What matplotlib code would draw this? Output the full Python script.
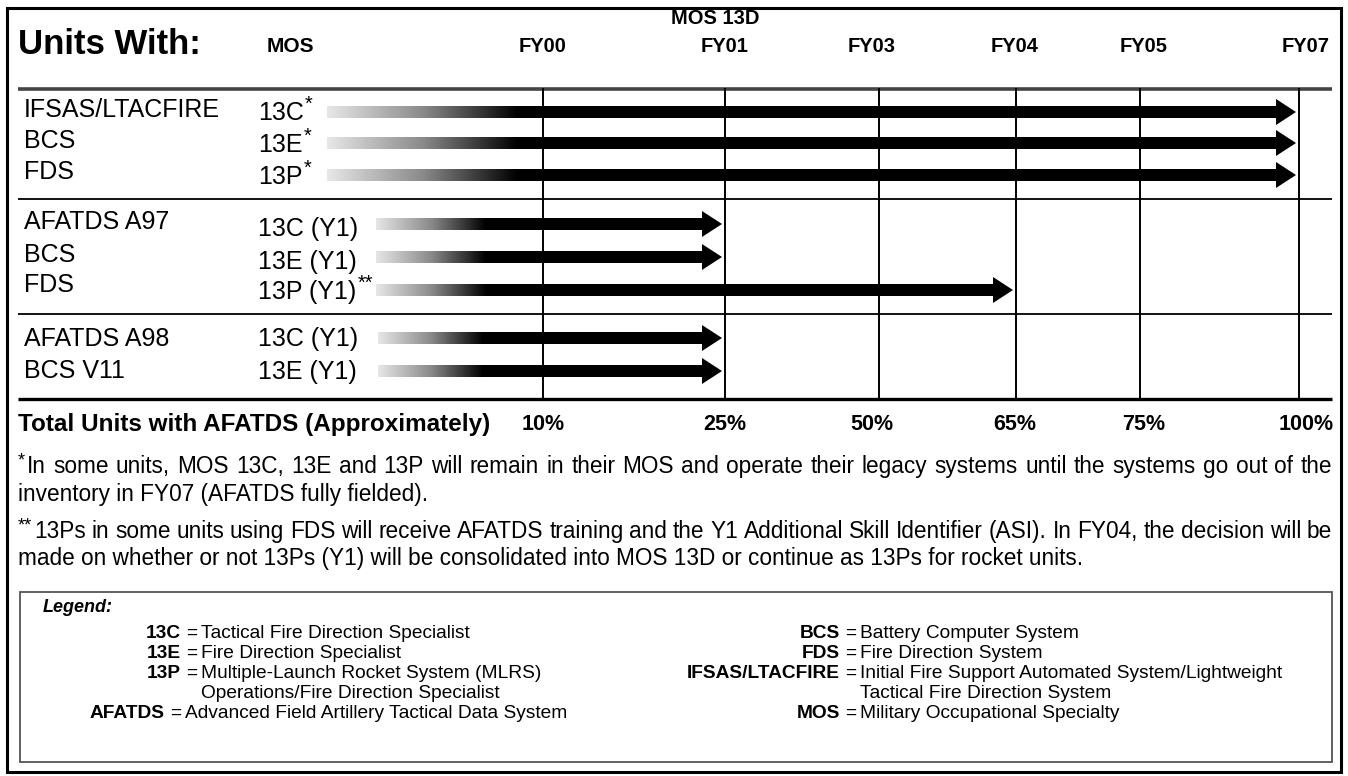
import matplotlib
matplotlib.use("Agg")
import matplotlib.pyplot as plt
import numpy as np
from matplotlib.patches import Polygon, Rectangle
from matplotlib.colors import LinearSegmentedColormap

plt.rcParams["font.family"] = ["Liberation Sans", "DejaVu Sans"]

# ---- chart content ----
fiscal_years = ["FY00", "FY01", "FY03", "FY04", "FY05", "FY07"]
fielded_share = ["10%", "25%", "50%", "65%", "75%", "100%"]

group_systems = [
    ["IFSAS/LTACFIRE", "BCS", "FDS"],
    ["AFATDS A97", "BCS", "FDS"],
    ["AFATDS A98", "BCS V11"],
]
group_mos = [
    ["13C", "13E", "13P"],
    ["13C (Y1)", "13E (Y1)", "13P (Y1)"],
    ["13C (Y1)", "13E (Y1)"],
]
group_marks = [
    ["*", "*", "*"],
    ["", "", "**"],
    ["", ""],
]
group_until = [
    ["FY07", "FY07", "FY07"],
    ["FY01", "FY01", "FY04"],
    ["FY01", "FY01"],
]

note_1_lines = [
    "In some units, MOS 13C, 13E and 13P will remain in their MOS and operate their legacy systems until the systems go out of the",
    "inventory in FY07 (AFATDS fully fielded).",
]
note_2_lines = [
    "13Ps in some units using FDS will receive AFATDS training and the Y1 Additional Skill Identifier (ASI). In FY04, the decision will be",
    "made on whether or not 13Ps (Y1) will be consolidated into MOS 13D or continue as 13Ps for rocket units.",
]

legend_left_keys = ["13C", "13E", "13P", "AFATDS"]
legend_left_text = [
    ["Tactical Fire Direction Specialist"],
    ["Fire Direction Specialist"],
    ["Multiple-Launch Rocket System (MLRS)", "Operations/Fire Direction Specialist"],
    ["Advanced Field Artillery Tactical Data System"],
]
legend_right_keys = ["BCS", "FDS", "IFSAS/LTACFIRE", "MOS"]
legend_right_text = [
    ["Battery Computer System"],
    ["Fire Direction System"],
    ["Initial Fire Support Automated System/Lightweight", "Tactical Fire Direction System"],
    ["Military Occupational Specialty"],
]

# ---- layout (pixels, y grows downward) ----
W, H = 1348, 776
col_x = [543, 725, 879, 1016, 1140, 1299]
col_label_x = [543, 725, 872, 1015, 1144, 1306]
rule_left, rule_right = 18, 1332
row_y = [[112, 143, 175], [224, 257, 290], [338, 371]]
sys_y = [[110, 141, 172], [222, 255, 285], [339, 371]]
mos_y = [[113, 145, 177], [229, 262, 292], [339, 372]]
arrow_start = [327, 376, 378]
fade_len = [190, 110, 105]
group_rules = [199, 314]
row_size = 18
note_size = 16.3
note_base = [473, 501, 538, 565]

fig = plt.figure(figsize=(W / 100, H / 100), dpi=100)
ax = fig.add_axes([0, 0, 1, 1])
ax.set_xlim(0, W)
ax.set_ylim(H, 0)
ax.axis("off")
renderer = fig.canvas.get_renderer()

fade = LinearSegmentedColormap.from_list("fade", ["#e6e6e6", "#8a8a8a", "#000000"])


def text_with_mark(x, y, text, mark, size, weight="normal"):
    t = ax.text(x, y, text, fontsize=size, fontweight=weight, va="center", ha="left")
    if mark:
        bb = t.get_window_extent(renderer)
        ax.text(bb.x1 + 1, y - 9, mark, fontsize=size * 0.8, va="center", ha="left")
    return t


def justify(words, x0, x1, y, size):
    items = [ax.text(x0, y, w, fontsize=size, va="baseline", ha="left") for w in words]
    widths = [t.get_window_extent(renderer).width for t in items]
    gap = (x1 - x0 - sum(widths)) / max(len(words) - 1, 1)
    x = x0
    for t, w in zip(items, widths):
        t.set_x(x)
        x += w + gap


def draw_arrow(x0, x1, y, glen):
    shaft, head, head_len = 6, 13, 20
    pts = [
        (x0, y - shaft), (x1 - head_len, y - shaft), (x1 - head_len, y - head),
        (x1, y), (x1 - head_len, y + head), (x1 - head_len, y + shaft), (x0, y + shaft),
    ]
    poly = Polygon(pts, closed=True, facecolor="none", edgecolor="none")
    ax.add_patch(poly)
    xs = np.linspace(x0, x1, 400)
    grad = np.clip((xs - x0) / glen, 0, 1)[None, :]
    im = ax.imshow(grad, cmap=fade, vmin=0, vmax=1, aspect="auto",
                   extent=(x0, x1, y + head, y - head), interpolation="bilinear", zorder=3)
    im.set_clip_path(poly)


# frame
ax.add_patch(Rectangle((7, 8), 1334, 764, fill=False, edgecolor="black", linewidth=2.2))

# header
ax.text(715, 18, "MOS 13D", fontsize=14.5, fontweight="bold", ha="center", va="center")
ax.text(18, 45, "Units With:", fontsize=25, fontweight="bold", ha="left", va="center")
ax.text(290, 47, "MOS", fontsize=15, fontweight="bold", ha="center", va="center")
for x, fy in zip(col_label_x, fiscal_years):
    ax.text(x, 47, fy, fontsize=14.5, fontweight="bold", ha="center", va="center")

# rules and year columns
ax.plot([rule_left, rule_right], [89, 89], color="#444444", linewidth=2.6, solid_capstyle="butt")
for y in group_rules:
    ax.plot([rule_left, rule_right], [y, y], color="black", linewidth=1.3, solid_capstyle="butt")
ax.plot([rule_left, rule_right], [399, 399], color="black", linewidth=2.4, solid_capstyle="butt")
for x in col_x:
    ax.plot([x, x], [89, 399], color="black", linewidth=1.4)

# rows and arrows
for g in range(len(group_systems)):
    for i in range(len(group_systems[g])):
        ax.text(24, sys_y[g][i], group_systems[g][i], fontsize=row_size, ha="left", va="center")
        text_with_mark(258, mos_y[g][i], group_mos[g][i], group_marks[g][i], row_size)
        end_x = col_x[fiscal_years.index(group_until[g][i])] - 3
        draw_arrow(arrow_start[g], end_x, row_y[g][i], fade_len[g])

# fielding percentages
ax.text(18, 425, "Total Units with AFATDS (Approximately)", fontsize=17.5, fontweight="bold",
        ha="left", va="center")
for x, pct in zip(col_label_x, fielded_share):
    ax.text(x, 425, pct, fontsize=15.5, fontweight="bold", ha="center", va="center")

# footnotes
ax.text(18, note_base[0] - 8, "*", fontsize=13, ha="left", va="baseline")
justify(note_1_lines[0].split(), 27, rule_right, note_base[0], note_size)
ax.text(18, note_base[1], note_1_lines[1], fontsize=note_size, ha="left", va="baseline")
ax.text(18, note_base[2] - 8, "**", fontsize=13, ha="left", va="baseline")
justify(note_2_lines[0].split(), 34, rule_right, note_base[2], note_size)
ax.text(18, note_base[3], note_2_lines[1], fontsize=note_size, ha="left", va="baseline")

# legend box
ax.add_patch(Rectangle((20, 592), 1312, 170, fill=False, edgecolor="#555555", linewidth=1.3))
ax.text(43, 612, "Legend:", fontsize=13, fontweight="bold", fontstyle="italic", ha="left", va="baseline")

legend_size = 13.8
legend_base = [638, 658, 678, 718]
legend_step = 20
left_key_end = [181, 181, 181, 165]


def legend_entry(kx, y, key, lines):
    ax.text(kx, y, key, fontsize=legend_size, fontweight="bold", ha="right", va="baseline")
    ax.text(kx + 5, y, "=", fontsize=legend_size, ha="left", va="baseline")
    for j, line in enumerate(lines):
        ax.text(kx + 20, y + j * legend_step, line, fontsize=legend_size, ha="left", va="baseline")


for y, k, t, kx in zip(legend_base, legend_left_keys, legend_left_text, left_key_end):
    legend_entry(kx, y, k, t)
for y, k, t in zip(legend_base, legend_right_keys, legend_right_text):
    legend_entry(840, y, k, t)

fig.savefig("out.png", dpi=100)
